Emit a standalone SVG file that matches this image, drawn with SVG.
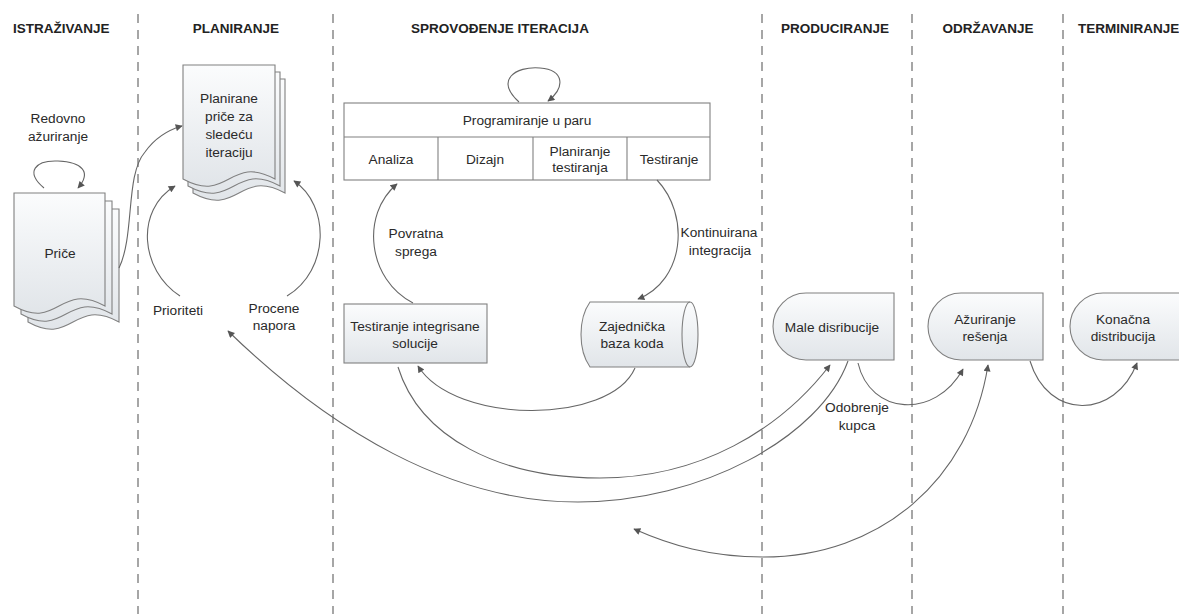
<svg xmlns="http://www.w3.org/2000/svg" width="1179" height="614" viewBox="0 0 1179 614">
  <defs>
    <linearGradient id="shade" x1="0" y1="0" x2="0" y2="1">
      <stop offset="0" stop-color="#fbfcfd"/>
      <stop offset="1" stop-color="#e1e5e9"/>
    </linearGradient>
    <marker id="arr" viewBox="0 0 10 10" refX="9" refY="5" markerWidth="9" markerHeight="7" markerUnits="userSpaceOnUse" orient="auto-start-reverse">
      <path d="M0,0 L10,5 L0,10 z" fill="#555"/>
    </marker>
    <style>
      .lane { stroke: #777; stroke-width: 1.3; stroke-dasharray: 9 7; fill: none; }
      .head { font-family: "Liberation Sans", Arial, sans-serif; font-size: 13.5px; font-weight: bold; fill: #222; }
      .t { font-family: "Liberation Sans", Arial, sans-serif; font-size: 13.7px; fill: #2a2a2a; text-anchor: middle; }
      .shape { fill: url(#shade); stroke: #808080; stroke-width: 1.1; }
      .plain { fill: #fff; stroke: #808080; stroke-width: 1.1; }
      .con { fill: none; stroke: #666; stroke-width: 1.1; }
      .arrow { marker-end: url(#arr); }
      .both { marker-start: url(#arr); marker-end: url(#arr); }
    </style>
  </defs>

  <rect width="1179" height="614" fill="#fff"/>

  <!-- swimlane separators -->
  <g id="lanes">
    <line class="lane" x1="138" y1="14" x2="138" y2="614"/>
    <line class="lane" x1="333" y1="14" x2="333" y2="614"/>
    <line class="lane" x1="762" y1="14" x2="762" y2="614"/>
    <line class="lane" x1="912" y1="14" x2="912" y2="614"/>
    <line class="lane" x1="1063" y1="14" x2="1063" y2="614"/>
  </g>

  <!-- lane headings -->
  <g id="headings">
    <text class="head" x="13" y="33">ISTRAŽIVANJE</text>
    <text class="head" x="236" y="33" text-anchor="middle">PLANIRANJE</text>
    <text class="head" x="500" y="33" text-anchor="middle">SPROVOĐENJE ITERACIJA</text>
    <text class="head" x="835" y="33" text-anchor="middle">PRODUCIRANJE</text>
    <text class="head" x="988" y="33" text-anchor="middle">ODRŽAVANJE</text>
    <text class="head" x="1078" y="33">TERMINIRANJE</text>
  </g>

  <!-- story stack -->
  <g id="price">
    <path class="shape" d="M28 209 H119 V322 C73 297 73 347 28 322 Z"/>
    <path class="shape" d="M21 201 H112 V314 C66 289 66 339 21 314 Z"/>
    <path class="shape" d="M14 193 H105 V306 C59 281 59 331 14 306 Z"/>
    <text class="t" x="60" y="258">Priče</text>
  </g>

  <!-- planned stories stack -->
  <g id="planirane">
    <path class="shape" d="M193 79 H285 V193 C239 168 239 218 193 193 Z"/>
    <path class="shape" d="M188 72 H280 V186 C234 161 234 211 188 186 Z"/>
    <path class="shape" d="M183 65 H275 V179 C229 154 229 204 183 179 Z"/>
    <text class="t" x="229" y="103">Planirane</text>
    <text class="t" x="229" y="121">priče za</text>
    <text class="t" x="229" y="139">sledeću</text>
    <text class="t" x="229" y="157">iteraciju</text>
  </g>

  <!-- pair programming table -->
  <g id="programiranje">
    <rect class="plain" x="344" y="103" width="366" height="77"/>
    <line x1="344" y1="137" x2="710" y2="137" stroke="#808080" stroke-width="1.1"/>
    <line x1="438" y1="137" x2="438" y2="180" stroke="#808080" stroke-width="1.1"/>
    <line x1="533" y1="137" x2="533" y2="180" stroke="#808080" stroke-width="1.1"/>
    <line x1="627" y1="137" x2="627" y2="180" stroke="#808080" stroke-width="1.1"/>
    <text class="t" x="527" y="125">Programiranje u paru</text>
    <text class="t" x="391" y="164">Analiza</text>
    <text class="t" x="485" y="164">Dizajn</text>
    <text class="t" x="580" y="156">Planiranje</text>
    <text class="t" x="580" y="172">testiranja</text>
    <text class="t" x="669" y="164">Testiranje</text>
  </g>

  <g id="testiranje-integrisane">
    <rect class="shape" x="344" y="304" width="143" height="59"/>
    <text class="t" x="415" y="331">Testiranje integrisane</text>
    <text class="t" x="415" y="348">solucije</text>
  </g>

  <g id="baza-koda">
    <path class="shape" d="M590 302 H690 A8 32.5 0 0 1 690 367 H590 C578 350 578 319 590 302 Z"/>
    <path d="M690 302 A8 32.5 0 0 0 690 367" fill="none" stroke="#808080" stroke-width="1.1"/>
    <text class="t" x="632" y="331">Zajednička</text>
    <text class="t" x="632" y="348">baza koda</text>
  </g>

  <g id="male-distribucije">
    <path class="shape" d="M806 293 H894 V360 H806 A33 33.5 0 0 1 806 293 Z"/>
    <text class="t" x="832" y="332">Male disribucije</text>
  </g>

  <g id="azuriranje">
    <path class="shape" d="M961 293 H1043 V360 H961 A33 33.5 0 0 1 961 293 Z"/>
    <text class="t" x="985" y="324">Ažuriranje</text>
    <text class="t" x="985" y="341">rešenja</text>
  </g>

  <g id="konacna">
    <path class="shape" d="M1103 293 H1190 V360 H1103 A33 33.5 0 0 1 1103 293 Z"/>
    <text class="t" x="1123" y="324">Konačna</text>
    <text class="t" x="1123" y="341">distribucija</text>
  </g>

  <!-- connectors -->
  <g id="connectors">
    <path class="con arrow" d="M44 188 C25 172 35 160 58 161 C82 162 92 172 78 188"/>
    <path class="con arrow" d="M119 268 C135 235 125 175 145 152 C155 138 168 130 182 126"/>
    <path class="con arrow" d="M180 296 C140 270 135 210 175 186"/>
    <path class="con arrow" d="M287 296 C330 270 330 205 294 181"/>
    <path class="con arrow" d="M519 102 C495 80 515 66 540 68 C565 70 565 88 548 101"/>
    <path class="con arrow" d="M413 303 C368 280 360 215 397 184"/>
    <path class="con arrow" d="M657 180 C690 215 685 280 638 299"/>
    <path class="con arrow" d="M635 368 C610 425 455 425 418 366"/>
    <path class="con arrow" d="M398 367 C420 438 500 478 600 478 C700 478 780 430 830 365"/>
    <path class="con arrow" d="M848 361 C820 438 700 502 578 502 C450 502 330 430 228 331"/>
    <path class="con arrow" d="M858 363 C870 415 935 420 963 369"/>
    <path class="con arrow" d="M1030 361 C1048 420 1115 420 1137 363"/>
    <path class="con both" d="M988 365 C970 480 880 557 763 557 C710 557 670 545 634 529"/>
  </g>

  <!-- connector labels -->
  <g id="labels">
    <text class="t" x="58" y="123">Redovno</text>
    <text class="t" x="58" y="141">ažuriranje</text>
    <text class="t" x="178" y="315">Prioriteti</text>
    <text class="t" x="274" y="313">Procene</text>
    <text class="t" x="274" y="330">napora</text>
    <text class="t" x="416" y="238">Povratna</text>
    <text class="t" x="416" y="256">sprega</text>
    <text class="t" x="719" y="237">Kontinuirana</text>
    <text class="t" x="720" y="255">integracija</text>
    <text class="t" x="857" y="412">Odobrenje</text>
    <text class="t" x="857" y="430">kupca</text>
  </g>
</svg>
